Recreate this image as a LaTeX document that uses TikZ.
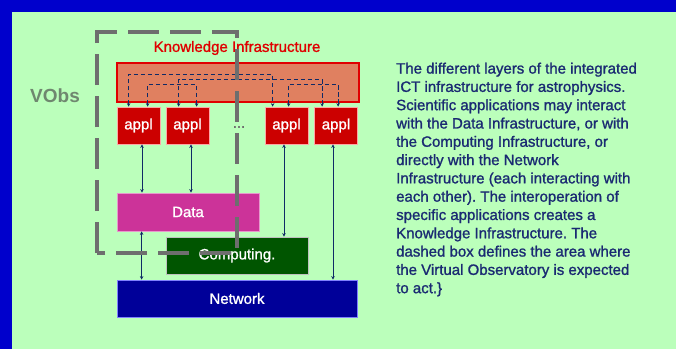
\documentclass[tikz,border=0pt]{standalone}
\usepackage{fontspec}
\setmainfont{Liberation Sans}
\newfontfamily\heavyfont{Liberation Sans}[FakeBold=1.2]
\usetikzlibrary{arrows.meta}
\frenchspacing
\definecolor{bgblue}{HTML}{0000CC}
\definecolor{panel}{HTML}{BBFFBB}
\definecolor{vgray}{HTML}{6E6E6E}
\definecolor{kfill}{HTML}{E08060}
\definecolor{kred}{HTML}{E00000}
\definecolor{applred}{HTML}{CC0000}
\definecolor{datam}{HTML}{CC3399}
\definecolor{compg}{HTML}{005500}
\definecolor{netb}{HTML}{000099}
\definecolor{navy}{HTML}{0F2A66}
\definecolor{txtnavy}{HTML}{1A2A72}
\definecolor{vobs}{HTML}{6F876F}
\tikzset{
  layerbox/.style={draw, line width=0.8pt, inner sep=0pt, text=white,
    font=\heavyfont\fontsize{15}{18}\selectfont},
  applbox/.style={layerbox, fill=applred, draw=red!35!white,
    minimum width=43pt, minimum height=37pt},
  solidarrow/.style={draw=navy, line width=0.9pt,
    {Stealth[length=3.5pt,width=3.5pt]}-{Stealth[length=3.5pt,width=3.5pt]}},
  dasharrow/.style={draw=navy, line width=1.1pt, dash pattern=on 4.5pt off 2.5pt,
    {Stealth[length=3.5pt,width=3.5pt]}-{Stealth[length=3.5pt,width=3.5pt]}},
  vobox/.style={draw=vgray, line width=4pt, dash pattern=on 31pt off 11pt}
}
\begin{document}
\begin{tikzpicture}[x=1pt,y=-1pt]
\useasboundingbox (0,0) rectangle (676,349);
\fill[bgblue] (0,0) rectangle (676,349);
\fill[panel] (12,12) rectangle (676,349);

% layers
\node[layerbox, fill=kfill, draw=kred, line width=1.2pt, minimum width=242pt, minimum height=39pt] (kb) at (238,82.5) {};
\node[text=kred, font=\heavyfont\fontsize{15}{18}\selectfont, inner sep=0pt] (ktitle) at (237,48) {Knowledge Infrastructure};

\node[applbox] (a1) at (138.5,125.5) {appl};
\node[applbox] (a2) at (187.5,125.5) {appl};
\node[applbox] (a3) at (286.5,125.5) {appl};
\node[applbox] (a4) at (336,125.5) {appl};
\node[text=vgray, font=\heavyfont\fontsize{15}{18}\selectfont, inner sep=0pt] (dots) at (239,127) {...};

\node[layerbox, fill=datam, draw=datam!50!white, minimum width=142pt, minimum height=38pt] (data) at (188,212) {Data};
\node[layerbox, fill=compg, draw=gray!50!white, minimum width=142pt, minimum height=37pt] (comp) at (237,255.5) {Computing.};
\node[layerbox, fill=netb, draw=blue!50!white, minimum width=240pt, minimum height=37pt] (net) at (237,298.5) {Network};

\node[text=vobs, font=\bfseries\fontsize{19}{22}\selectfont, inner sep=0pt] (vo) at (55,96) {VObs};

% solid arrows
\draw[solidarrow] ([xshift=3.5pt]a1.south) -- ([xshift=3.5pt]a1.south |- data.north);
\draw[solidarrow] ([xshift=3.5pt]a2.south) -- ([xshift=3.5pt]a2.south |- data.north);
\draw[solidarrow] ([xshift=-2.5pt]a3.south) -- ([xshift=-2.5pt]a3.south |- comp.north);
\draw[solidarrow] ([xshift=-3pt]a4.south) -- ([xshift=-3pt]a4.south |- net.north);
\draw[solidarrow] ([xshift=25pt]data.south west) -- ([xshift=25pt]data.south west |- net.north);

% dashed interconnections in the knowledge layer
\draw[dasharrow] ([xshift=12pt]a1.north west) -- ++(0,-32) -| ([xshift=8pt]a3.north west);
\draw[dasharrow] ([xshift=31pt]a1.north west) -- ++(0,-22) -| ([xshift=31pt]a2.north west);
\draw[dasharrow] ([xshift=13pt]a2.north west) -- ++(0,-27) -| ([xshift=8pt]a4.north west);
\draw[dasharrow] ([xshift=24pt]a3.north west) -- ++(0,-22) -| ([xshift=24pt]a4.north west);

% virtual observatory area
\draw[vobox] (97,253) -- (97,32) -- (237,32) -- (237,253) -- cycle;

% caption
\node[anchor=north west, inner sep=0pt, align=left, text=txtnavy,
      font=\heavyfont\fontsize{15}{18.3}\selectfont] (caption) at (396,62.5) {%
The different layers of the integrated\\
ICT infrastructure for astrophysics.\\
Scientific applications may interact\\
with the Data Infrastructure, or with\\
the Computing Infrastructure, or\\
directly with the Network\\
Infrastructure (each interacting with\\
each other). The interoperation of\\
specific applications creates a\\
Knowledge Infrastructure. The\\
dashed box defines the area where\\
the Virtual Observatory is expected\\
to act.\}};
\end{tikzpicture}
\end{document}
